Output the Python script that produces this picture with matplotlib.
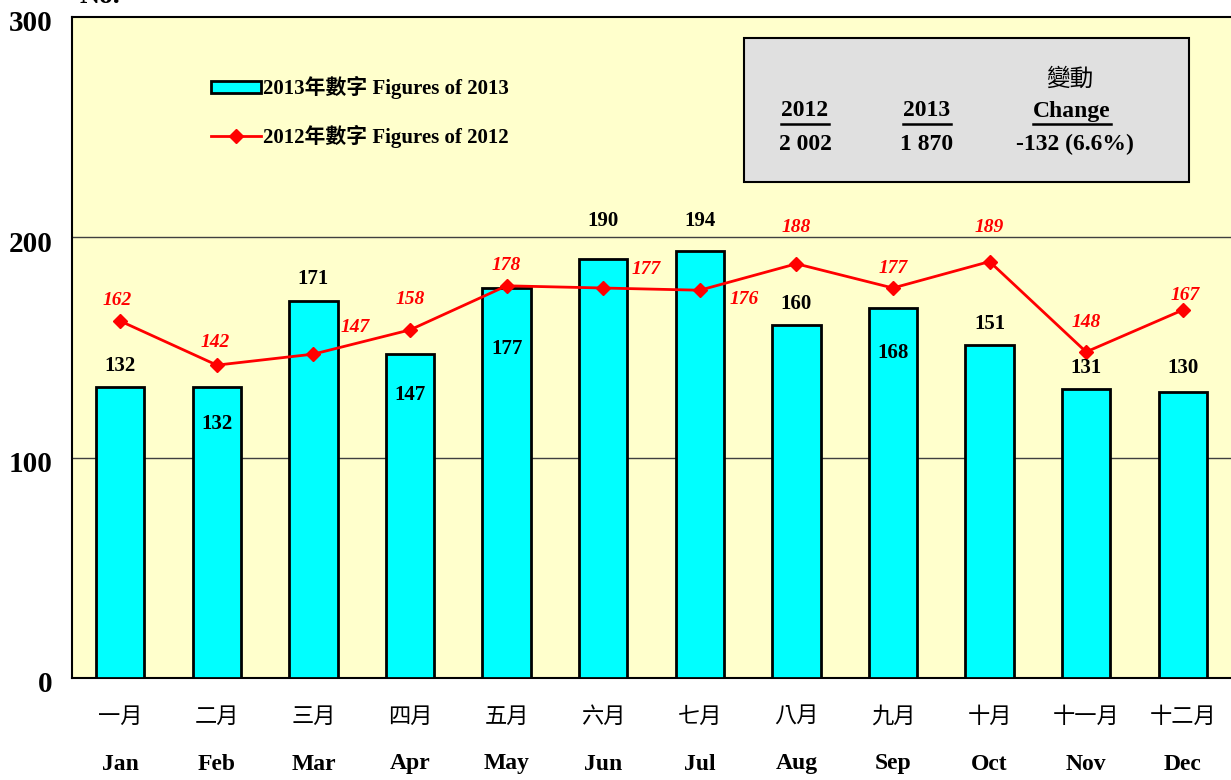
import matplotlib.pyplot as plt
from matplotlib.patches import Rectangle
from matplotlib.font_manager import FontProperties
from matplotlib.lines import Line2D
import matplotlib.transforms as mtransforms
import numpy as np

# data
months_cn = ["一月", "二月", "三月", "四月", "五月", "六月",
             "七月", "八月", "九月", "十月", "十一月", "十二月"]
months_en = ["Jan", "Feb", "Mar", "Apr", "May", "Jun",
             "Jul", "Aug", "Sep", "Oct", "Nov", "Dec"]
figs_2013 = [132, 132, 171, 147, 177, 190, 194, 160, 168, 151, 131, 130]
figs_2012 = [162, 142, 147, 158, 178, 177, 176, 188, 177, 189, 148, 167]
total_2012 = "2 002"
total_2013 = "1 870"
total_change = "-132 (6.6%)"

# label offsets in pixels (dx, dy) relative to bar top / marker
off_2013 = [(0, 21), (0, -37), (0, 22), (0, -41), (0, -61), (0, 38),
            (0, 30), (0, 21), (0, -45), (0, 21), (0, 21), (0, 24)]
off_2012 = [(-3, 21), (-2, 23), (42, 27), (0, 30), (0, 20), (43, 19),
            (44, -9), (0, 36), (0, 20), (0, 34), (0, 29), (2, 15)]

serif = ['Liberation Serif', 'Noto Sans CJK TC']
plt.rcParams['font.family'] = serif

W, H = 1231, 780
fig = plt.figure(figsize=(W / 100, H / 100), dpi=100)
ax = fig.add_axes([72 / W, (H - 678) / H, (W - 72) / W, (678 - 17) / H])
ax.set_facecolor('#FFFFCC')

x = np.arange(len(months_en))
bars = ax.bar(x, figs_2013, width=0.5, color='#00FFFF', edgecolor='black', linewidth=2,
              zorder=3, label='2013年數字 Figures of 2013')
line, = ax.plot(x, figs_2012, color='red', lw=2, marker='D', markersize=7,
                zorder=4, label='2012年數字 Figures of 2012')

for i, v in enumerate(figs_2013):
    dx, dy = off_2013[i]
    ax.annotate(str(v), (i, v), xytext=(dx, dy), textcoords='offset pixels',
                ha='center', va='center', fontsize=15, fontweight='bold', zorder=5)
for i, v in enumerate(figs_2012):
    dx, dy = off_2012[i]
    ax.annotate(str(v), (i, v), xytext=(dx, dy), textcoords='offset pixels',
                ha='center', va='center', fontsize=14, fontweight='bold',
                fontstyle='italic', color='red', zorder=5)

ax.set_xlim(-0.5, 11.5)
ax.set_ylim(0, 300)
ax.set_yticks([0, 100, 200, 300])
ax.set_yticklabels(['0', '100', '200', '300'], fontsize=21, fontweight='bold')
ax.set_xticks([])
ax.tick_params(axis='y', length=0, pad=14)
shift = mtransforms.ScaledTranslation(0, -4 / 100, fig.dpi_scale_trans)
for lbl in ax.get_yticklabels():
    lbl.set_transform(lbl.get_transform() + shift)
for y in [100, 200]:
    ax.axhline(y, color='#404040', lw=1, zorder=1)
for s in ['left', 'bottom', 'top']:
    ax.spines[s].set_linewidth(1.5)
ax.spines['right'].set_visible(False)

# month labels
for i in x:
    ax.text(i, -38 / 661, months_cn[i], transform=ax.get_xaxis_transform(),
            ha='center', va='center', fontsize=16, family='Noto Sans CJK TC')
    ax.text(i, -86 / 661, months_en[i], transform=ax.get_xaxis_transform(),
            ha='center', va='center', fontsize=17, fontweight='bold')

fig.text(80 / W, 1 - 3 / H, "No.", fontsize=20, fontweight='bold', va='baseline')

# legend
ax.legend([bars, line], [bars.get_label(), line.get_label()],
          loc='upper left', bbox_to_anchor=((203 - 72) / 1159, (678 - 68) / 661),
          frameon=False, prop=FontProperties(family=serif, weight='bold', size=15),
          handlelength=2.4, handleheight=0.55, labelspacing=1.2, handletextpad=0.1,
          borderaxespad=0)

# summary box
bx0, bx1 = (744 - 72) / 1159, (1189 - 72) / 1159
by0, by1 = (678 - 182) / 661, (678 - 38) / 661
ax.add_patch(Rectangle((bx0, by0), bx1 - bx0, by1 - by0, transform=ax.transAxes,
                       facecolor='#E0E0E0', edgecolor='black', lw=1.5, zorder=6))

def px(xp, yp):
    return (xp - 72) / 1159, (678 - yp) / 661

hdr = []
for xp, t in [(805, "2012"), (927, "2013"), (1072, "Change")]:
    tx, ty = px(xp, 111)
    hdr.append(ax.text(tx, ty, t, transform=ax.transAxes, ha='center', va='center',
                       fontsize=17, fontweight='bold', zorder=7))
tx, ty = px(1070, 79)
ax.text(tx, ty, "變動", transform=ax.transAxes, ha='center', va='center',
        fontsize=17, family='Noto Sans CJK TC', zorder=7)
for xp, t in [(805, total_2012), (927, total_2013), (1075, total_change)]:
    tx, ty = px(xp, 144)
    ax.text(tx, ty, t, transform=ax.transAxes, ha='center', va='center',
            fontsize=17, fontweight='bold', zorder=7)

fig.canvas.draw()
r = fig.canvas.get_renderer()
for t in hdr:
    bb = t.get_window_extent(r)
    yline = (678 - 124) / 661
    x0 = (bb.x0 - 72) / 1159
    x1 = (bb.x1 - 72) / 1159
    ax.add_line(Line2D([x0, x1], [yline, yline], transform=ax.transAxes,
                       color='black', lw=1.8, zorder=7))

fig.savefig('out.png', dpi=100)
